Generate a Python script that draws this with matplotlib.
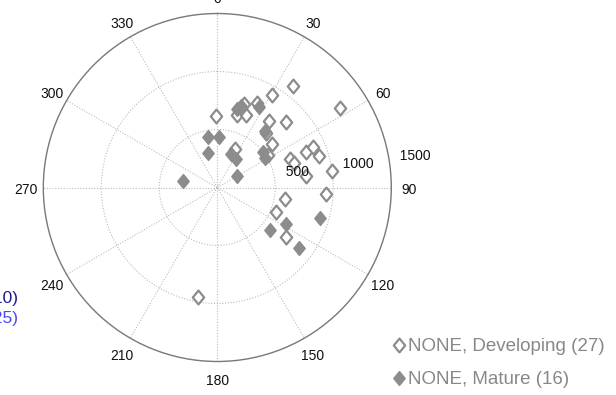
import numpy as np
import matplotlib
matplotlib.use("Agg")
import matplotlib.pyplot as plt
from matplotlib.path import Path
from matplotlib.lines import Line2D
from matplotlib.transforms import offset_copy

plt.rcParams['font.family'] = ['Liberation Sans', 'DejaVu Sans']

# Bearing (degrees, clockwise from north) and range for each group
dev_theta = [359.0, 18.0, 15.4, 21.6, 24.9, 30.6, 36.8, 57.2, 38.1, 46.5,
             51.6, 24.9, 68.3, 66.9, 72.8, 68.8, 72.5, 82.7, 81.6, 93.4,
             99.6, 112.8, 126.0, 189.8, 16.6, 41.8, 57.3]
dev_r = [619, 754, 648, 672, 806, 926, 1092, 1261, 729, 821,
         600, 363, 820, 898, 918, 672, 693, 775, 996, 939,
         595, 551, 733, 960, 715, 630, 519]

mat_theta = [280.1, 349.8, 2.3, 345.3, 21.8, 33.5, 60.1, 14.3, 16.2, 27.5,
             40.0, 51.7, 58.5, 106.7, 128.9, 118.0, 126.4]
mat_r = [296, 440, 433, 305, 311, 292, 199, 696, 732, 785,
         639, 498, 482, 924, 584, 671, 875]

angle_ticks = list(range(0, 360, 30))
range_ticks = [500, 1000, 1500]
r_max = 1500

labels = ["NONE, Developing (27)", "NONE, Mature (16)"]
side_labels = ["(10)", "(25)"]
side_colors = ["#1c1c8a", "#4a4af0"]

gray = "#8c8c8c"

# Diamond slightly taller than wide
diamond = Path([(0, 1), (0.82, 0), (0, -1), (-0.82, 0), (0, 1)],
               [Path.MOVETO, Path.LINETO, Path.LINETO, Path.LINETO, Path.CLOSEPOLY])

fig = plt.figure(figsize=(6.16, 3.95), dpi=100)
W, H = 616, 395
cx, cy, rad = 217.3, 187.5, 174.0
ax = fig.add_axes([(cx - rad) / W, (H - cy - rad) / H, 2 * rad / W, 2 * rad / H],
                  projection='polar')
ax.set_theta_zero_location('N')
ax.set_theta_direction(-1)
ax.set_rlim(0, r_max)
ax.set_rticks(range_ticks)
ax.set_yticklabels([])
ax.set_thetagrids(angle_ticks, labels=[''] * len(angle_ticks))
ax.grid(True, color='#bcbcbc', linestyle=(0, (1, 1.5)), linewidth=0.8)
ax.spines['polar'].set_color('#7a7a7a')
ax.spines['polar'].set_linewidth(1.0)
ax.tick_params(length=0)

ax.plot(np.deg2rad(dev_theta), dev_r, linestyle='none', marker=diamond,
        markersize=10, markerfacecolor='white', markeredgecolor=gray,
        markeredgewidth=1.6, label=labels[0], zorder=3)
ax.plot(np.deg2rad(mat_theta), mat_r, linestyle='none', marker=diamond,
        markersize=10, markerfacecolor=gray, markeredgecolor=gray,
        markeredgewidth=1.0, label=labels[1], zorder=4)

label_tr = offset_copy(ax.transData, fig=fig, x=0, y=-2.5, units='dots')
for a in angle_ticks:
    ax.text(np.deg2rad(a), 1.1 * r_max, str(a), ha='center', va='center',
            fontsize=10, color='#111111', clip_on=False, transform=label_tr)

for rv in range_ticks:
    ax.text(np.deg2rad(82), rv + 25, '  ' + str(rv), ha='left', va='bottom',
            fontsize=10, color='#111111', clip_on=False)

handles = [
    Line2D([], [], linestyle='none', marker=diamond, markersize=10,
           markerfacecolor='white', markeredgecolor=gray, markeredgewidth=1.6),
    Line2D([], [], linestyle='none', marker=diamond, markersize=10,
           markerfacecolor=gray, markeredgecolor=gray),
]
fig.legend(handles, labels, loc='upper left',
           bbox_to_anchor=(391 / W, 1 - 338 / H), frameon=False,
           fontsize=13.5, labelcolor='#888888', handlelength=0.8,
           handletextpad=0.12, labelspacing=0.85, borderpad=0, borderaxespad=0)

for i, (txt, col) in enumerate(zip(side_labels, side_colors)):
    fig.text(19 / W, 1 - (298 + 21 * i) / H, txt, ha='right', va='center',
             fontsize=12.5, color=col)

fig.savefig('out.png', dpi=100)
